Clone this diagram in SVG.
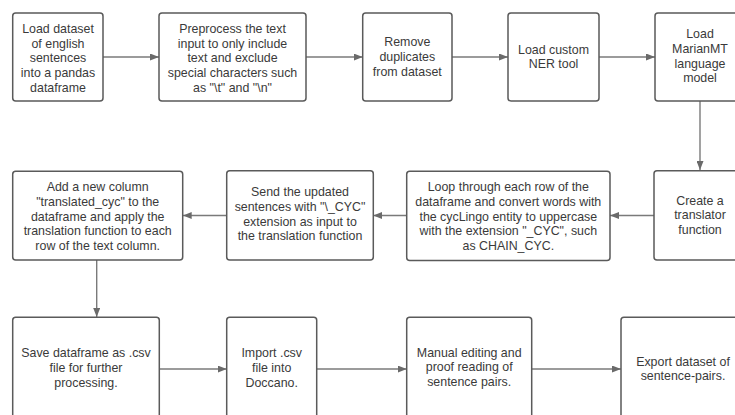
<svg xmlns="http://www.w3.org/2000/svg" width="735" height="415" viewBox="0 0 735 415">
<style>
.box{fill:#fff;stroke:#5a5a5a;stroke-width:1.5}
.t{font-family:"Liberation Sans",Arial,sans-serif;font-size:12.4px;fill:#3a3a3a;text-anchor:middle}
.c{stroke:#7a7a7a;stroke-width:1.4;fill:none;marker-end:url(#ah)}
</style>
<defs>
<marker id="ah" markerWidth="9" markerHeight="7" refX="9" refY="3.5" orient="auto" markerUnits="userSpaceOnUse">
<path d="M0,0 L9,3.5 L0,7 Z" fill="#6a6a6a"/>
</marker>
</defs>
<rect width="735" height="415" fill="#fff"/>
<g id="connectors">
<line class="c" x1="103" y1="57" x2="159" y2="57"/>
<line class="c" x1="306" y1="57" x2="362.7" y2="57"/>
<line class="c" x1="452" y1="57" x2="508" y2="57"/>
<line class="c" x1="599" y1="57" x2="655" y2="57"/>
<line class="c" x1="700" y1="101" x2="700" y2="170"/>
<line class="c" x1="654" y1="215.5" x2="610" y2="215.5"/>
<line class="c" x1="406.7" y1="215.5" x2="373.3" y2="215.5"/>
<line class="c" x1="226.7" y1="215.5" x2="182.7" y2="215.5"/>
<line class="c" x1="96.7" y1="260" x2="96.7" y2="317"/>
<line class="c" x1="159.3" y1="369" x2="226.7" y2="369"/>
<line class="c" x1="316.7" y1="369" x2="406.7" y2="369"/>
<line class="c" x1="531.7" y1="369" x2="621" y2="369"/>
</g>
<g id="n1">
<rect class="box" x="12.7" y="13" width="90.3" height="88" rx="3"/>
<text class="t" x="58" y="32.7">Load dataset</text>
<text class="t" x="58" y="47.5">of english</text>
<text class="t" x="58" y="62.3">sentences</text>
<text class="t" x="58" y="77.1">into a pandas</text>
<text class="t" x="58" y="91.9">dataframe</text>
</g>
<g id="n2">
<rect class="box" x="159" y="13" width="147" height="88" rx="3"/>
<text class="t" x="232.5" y="32.7">Preprocess the text</text>
<text class="t" x="232.5" y="47.5">input to only include</text>
<text class="t" x="232.5" y="62.3">text and exclude</text>
<text class="t" x="232.5" y="77.1">special characters such</text>
<text class="t" x="232.5" y="91.9">as "\t" and "\n"</text>
</g>
<g id="n3">
<rect class="box" x="362.7" y="13" width="89.3" height="88" rx="3"/>
<text class="t" x="407.3" y="46">Remove</text>
<text class="t" x="407.3" y="60.8">duplicates</text>
<text class="t" x="407.3" y="75.6">from dataset</text>
</g>
<g id="n4">
<rect class="box" x="508" y="13" width="91" height="88" rx="3"/>
<text class="t" x="553.5" y="53.5">Load custom</text>
<text class="t" x="553.5" y="68.3">NER tool</text>
</g>
<g id="n5">
<rect class="box" x="655" y="13" width="91" height="88" rx="3"/>
<text class="t" x="700" y="37.9">Load</text>
<text class="t" x="700" y="52.7">MarianMT</text>
<text class="t" x="700" y="67.5">language</text>
<text class="t" x="700" y="82.3">model</text>
</g>
<g id="n6">
<rect class="box" x="654" y="170.7" width="92" height="89.3" rx="3"/>
<text class="t" x="700" y="204.5">Create a</text>
<text class="t" x="700" y="219.3">translator</text>
<text class="t" x="700" y="234.1">function</text>
</g>
<g id="n7">
<rect class="box" x="406.7" y="171.3" width="203.3" height="89.3" rx="3"/>
<text class="t" x="508.3" y="191">Loop through each row of the</text>
<text class="t" x="508.3" y="205.8">dataframe and convert words with</text>
<text class="t" x="508.3" y="220.6">the cycLingo entity to uppercase</text>
<text class="t" x="508.3" y="235.4">with the extension "_CYC", such</text>
<text class="t" x="508.3" y="250.2">as CHAIN_CYC.</text>
</g>
<g id="n8">
<rect class="box" x="226.7" y="170.7" width="146.6" height="89.3" rx="3"/>
<text class="t" x="300" y="196">Send the updated</text>
<text class="t" x="300" y="210.8">sentences with "\_CYC"</text>
<text class="t" x="300" y="225.6">extension as input to</text>
<text class="t" x="300" y="240.4">the translation function</text>
</g>
<g id="n9">
<rect class="box" x="12.7" y="171.3" width="170" height="88.7" rx="3"/>
<text class="t" x="97.7" y="191">Add a new column</text>
<text class="t" x="97.7" y="205.8">"translated_cyc" to the</text>
<text class="t" x="97.7" y="220.6">dataframe and apply the</text>
<text class="t" x="97.7" y="235.4">translation function to each</text>
<text class="t" x="97.7" y="250.2">row of the text column.</text>
</g>
<g id="n10">
<rect class="box" x="12.7" y="317.3" width="146.6" height="104" rx="3"/>
<text class="t" x="86" y="357">Save dataframe as .csv</text>
<text class="t" x="86" y="371.8">file for further</text>
<text class="t" x="86" y="386.6">processing.</text>
</g>
<g id="n11">
<rect class="box" x="226.7" y="317.3" width="90" height="104" rx="3"/>
<text class="t" x="271.7" y="357">Import .csv</text>
<text class="t" x="271.7" y="371.8">file into</text>
<text class="t" x="271.7" y="386.6">Doccano.</text>
</g>
<g id="n12">
<rect class="box" x="406.7" y="317.3" width="125" height="104" rx="3"/>
<text class="t" x="469.2" y="356.5">Manual editing and</text>
<text class="t" x="469.2" y="371.3">proof reading of</text>
<text class="t" x="469.2" y="386.1">sentence pairs.</text>
</g>
<g id="n13">
<rect class="box" x="621" y="317.3" width="125" height="104" rx="3"/>
<text class="t" x="683" y="365.5">Export dataset of</text>
<text class="t" x="683" y="380.3">sentence-pairs.</text>
</g>
</svg>
